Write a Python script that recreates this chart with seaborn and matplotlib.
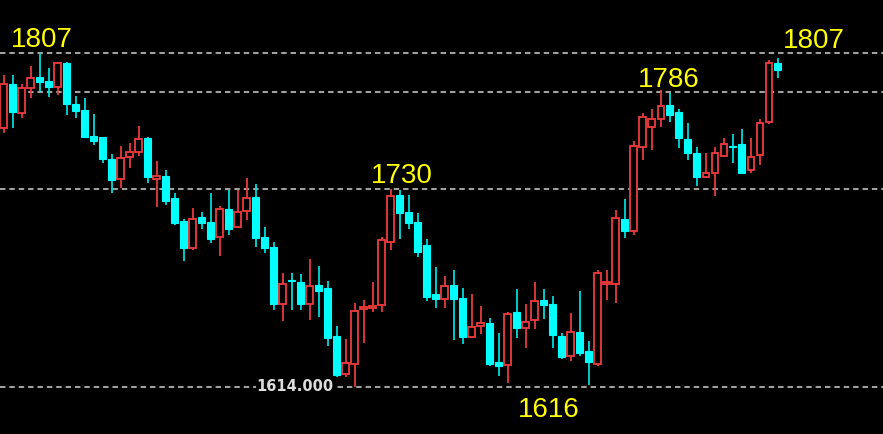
"""
Candlestick chart with key price levels (1807 / 1786 / 1730 / 1616).
"""

import numpy as np
import pandas as pd
import matplotlib
matplotlib.use("Agg")
import matplotlib.pyplot as plt
import seaborn as sns

# OHLC values, one entry per candle (oldest first)
opens = [1763.6, 1789.1, 1772.3, 1786.8, 1793.1, 1790.8, 1787.3, 1801.2, 1777.5, 1774.1,
         1759.0, 1758.4, 1745.7, 1734.2, 1746.9, 1749.8, 1757.9, 1734.2, 1735.9, 1723.2,
         1709.9, 1694.3, 1712.2, 1709.3, 1700.6, 1716.8, 1706.4, 1715.7, 1723.8, 1700.6,
         1694.9, 1661.9, 1675.8, 1674.6, 1661.9, 1672.9, 1671.2, 1643.4, 1621.5, 1627.2,
         1659.0, 1659.6, 1661.3, 1697.8, 1724.9, 1715.1, 1709.3, 1696.0, 1667.7, 1664.8,
         1672.9, 1665.4, 1642.8, 1649.2, 1650.9, 1628.4, 1626.7, 1657.3, 1648.0, 1652.7,
         1664.2, 1661.9, 1643.4, 1631.9, 1645.7, 1634.8, 1627.2, 1673.5, 1673.5, 1711.1,
         1704.1, 1752.7, 1764.2, 1768.9, 1776.9, 1772.9, 1757.3, 1749.2, 1735.3, 1737.6,
         1747.5, 1753.2, 1754.4, 1739.4, 1748.0, 1767.1, 1801.2]
highs = [1794.3, 1794.3, 1789.1, 1799.5, 1807.0, 1798.3, 1801.8, 1801.5, 1782.1, 1781.0,
         1771.7, 1758.6, 1748.6, 1753.2, 1755.0, 1764.8, 1758.2, 1744.6, 1739.4, 1726.1,
         1711.1, 1717.4, 1715.1, 1726.1, 1718.6, 1727.8, 1727.8, 1734.7, 1731.3, 1706.4,
         1697.8, 1679.8, 1679.8, 1679.3, 1687.9, 1683.9, 1675.2, 1649.2, 1641.7, 1662.5,
         1664.2, 1674.6, 1700.6, 1728.6, 1727.8, 1724.9, 1714.5, 1699.5, 1683.3, 1678.1,
         1681.6, 1671.2, 1667.7, 1660.8, 1653.8, 1645.2, 1657.3, 1670.6, 1661.9, 1674.6,
         1670.6, 1666.5, 1645.2, 1656.7, 1669.4, 1640.5, 1681.6, 1681.6, 1716.3, 1722.6,
         1756.1, 1772.3, 1774.6, 1785.6, 1783.9, 1774.6, 1766.5, 1752.7, 1749.2, 1752.7,
         1757.9, 1760.2, 1763.1, 1757.9, 1768.9, 1803.0, 1804.1]
lows = [1760.8, 1763.6, 1769.4, 1781.0, 1784.5, 1781.6, 1782.7, 1771.2, 1769.4, 1757.9,
        1753.8, 1743.4, 1726.1, 1729.0, 1740.5, 1747.5, 1731.9, 1718.0, 1719.1, 1707.6,
        1686.8, 1693.1, 1705.3, 1697.2, 1689.7, 1701.8, 1705.8, 1710.5, 1694.9, 1691.4,
        1658.5, 1652.1, 1658.5, 1658.5, 1652.7, 1654.4, 1637.6, 1619.7, 1619.7, 1614.0,
        1639.4, 1657.3, 1657.3, 1693.1, 1699.5, 1705.3, 1689.1, 1663.7, 1659.6, 1659.6,
        1641.1, 1638.8, 1642.3, 1644.6, 1626.1, 1620.3, 1616.3, 1642.3, 1636.5, 1647.5,
        1653.3, 1636.5, 1630.1, 1629.0, 1631.9, 1615.1, 1626.1, 1664.2, 1662.5, 1700.1,
        1701.8, 1745.2, 1750.9, 1764.2, 1767.1, 1752.1, 1745.2, 1730.1, 1734.7, 1724.3,
        1746.9, 1743.4, 1737.1, 1737.6, 1742.3, 1766.0, 1792.5]
closes = [1789.1, 1772.9, 1786.8, 1792.5, 1790.2, 1787.3, 1801.2, 1777.5, 1773.5, 1758.4,
          1756.1, 1745.7, 1733.6, 1746.3, 1749.8, 1757.3, 1735.3, 1735.9, 1721.5, 1708.7,
          1694.3, 1711.1, 1708.7, 1699.5, 1716.8, 1705.3, 1715.1, 1723.2, 1700.1, 1694.3,
          1661.9, 1673.5, 1675.2, 1661.9, 1672.3, 1669.4, 1642.3, 1620.9, 1627.8, 1657.9,
          1660.2, 1660.8, 1698.9, 1724.3, 1714.5, 1708.7, 1692.0, 1666.0, 1664.8, 1672.3,
          1664.8, 1642.8, 1648.6, 1650.9, 1627.2, 1626.1, 1656.1, 1648.0, 1651.5, 1663.7,
          1661.3, 1644.0, 1631.3, 1645.7, 1633.6, 1628.4, 1679.8, 1674.6, 1711.6, 1704.1,
          1753.2, 1770.0, 1768.9, 1776.4, 1771.2, 1757.9, 1749.2, 1735.3, 1737.6, 1749.2,
          1754.4, 1752.7, 1737.6, 1746.9, 1766.5, 1801.2, 1797.2]

# horizontal dashed levels (as drawn) and the yellow labels
level_prices = [1807.0, 1784.5, 1728.4, 1614.0]
label_texts = ['1807', '1807', '1786', '1730', '1616']
label_pos = [(4.2, 1810.5), (90.0, 1809.9), (73.9, 1787.3), (44.2, 1731.9), (60.6, 1596.6)]

UP = '#f03c3c'
DOWN = '#00ffff'
DOWN_WICK = '#00e4e4'

df = pd.DataFrame({'open': opens, 'high': highs, 'low': lows, 'close': closes})
df['idx'] = np.arange(len(df))
df['up'] = df['close'] >= df['open']

sns.set_theme(style='dark', rc={'axes.facecolor': 'black', 'figure.facecolor': 'black',
                                'axes.grid': False})
plt.rcParams['font.family'] = ['Liberation Sans', 'DejaVu Sans']

fig = plt.figure(figsize=(8.83, 4.34), dpi=100)
ax = fig.add_axes([0, 0, 1, 1])
ax.set_facecolor('black')

# levels
for p in level_prices:
    ax.axhline(p, color='#a0a0a0', lw=1.5, dashes=(2.6, 1.9), zorder=1)

# wicks
wick_colors = np.where(df['up'], UP, DOWN_WICK)
ax.vlines(df['idx'], df['low'], df['high'], colors=wick_colors, lw=1.25, zorder=2)

# bodies: hollow red for up, filled cyan for down
body_bottom = df[['open', 'close']].min(axis=1)
body_height = (df['close'] - df['open']).abs().clip(lower=0.4)
up = df[df['up']]
dn = df[~df['up']]
ax.bar(up['idx'], body_height[df['up']], bottom=body_bottom[df['up']], width=0.7,
       color='black', edgecolor=UP, linewidth=1.3, zorder=3)
ax.bar(dn['idx'], body_height[~df['up']], bottom=body_bottom[~df['up']], width=0.72,
       color=DOWN, edgecolor=DOWN, linewidth=0.8, zorder=3)

for txt, (x, y) in zip(label_texts, label_pos):
    ax.text(x, y, txt, color='#ffff00', fontsize=20, ha='center', va='baseline', zorder=5)

ax.text(32.4, 1614.0, '1614.000', color='#dcdcdc', fontsize=10.5, fontweight='bold',
        family='DejaVu Sans', ha='center', va='center', zorder=5,
        bbox=dict(facecolor='black', edgecolor='none', pad=0.5))

ax.set_xlim(-0.39, 97.7)
ax.set_ylim(1586.8, 1837.6)
ax.axis('off')

fig.savefig('out.png', dpi=100, facecolor='black')
